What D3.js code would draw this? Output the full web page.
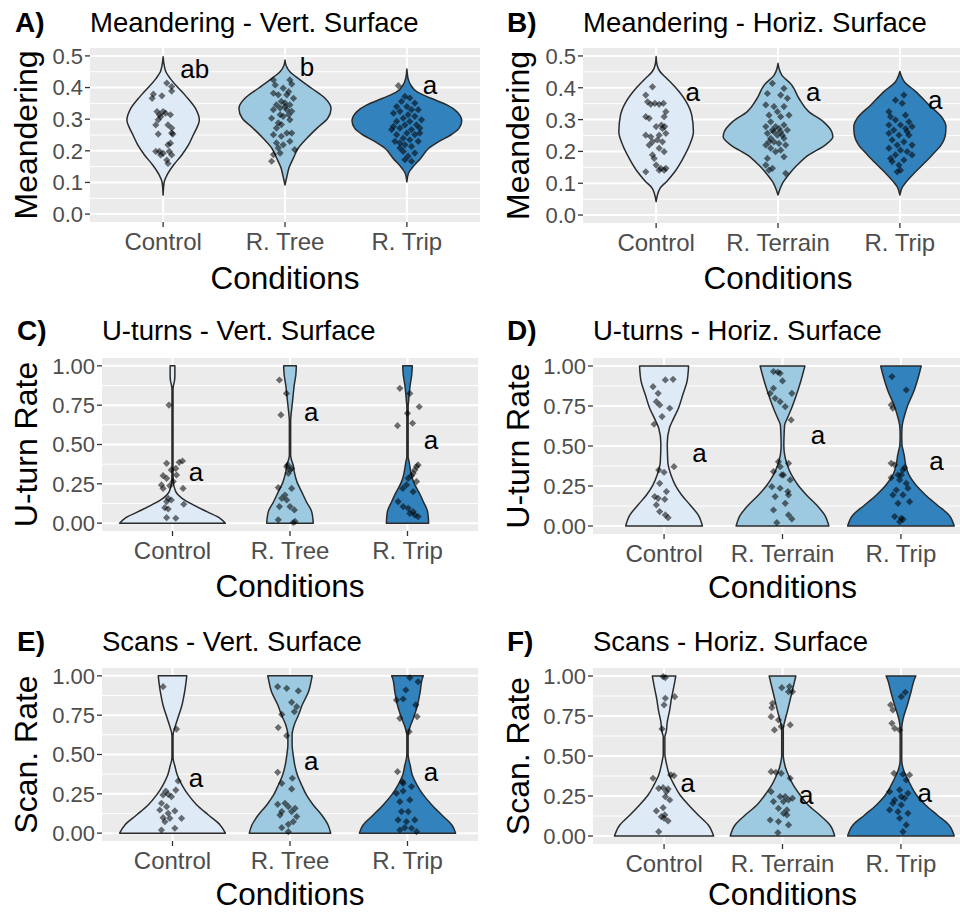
<!DOCTYPE html>
<html>
<head>
<meta charset="utf-8">
<script src="https://cdn.jsdelivr.net/npm/d3@7"></script>
<style>
  body { margin: 0; background: #fff; }
  text { font-family: "Liberation Sans", Arial, sans-serif; }
</style>
</head>
<body>
<svg id="chart" width="960" height="912"></svg>
<script>
// ---- data ----
const condVert = ["Control", "R. Tree", "R. Trip"];
const condHoriz = ["Control", "R. Terrain", "R. Trip"];
const tags = ["A)", "B)", "C)", "D)", "E)", "F)"];
const titles = ["Meandering - Vert. Surface", "Meandering - Horiz. Surface",
	"U-turns - Vert. Surface", "U-turns - Horiz. Surface",
	"Scans - Vert. Surface", "Scans - Horiz. Surface"];
const yTitles = ["Meandering", "Meandering", "U-turn Rate", "U-turn Rate", "Scan. Rate", "Scan. Rate"];
const meanderTicks = [0, 0.1, 0.2, 0.3, 0.4, 0.5];
const rateTicks = [0, 0.25, 0.5, 0.75, 1];
const fills = ["#deebf7", "#9ecae1", "#3182bd"];

// violin outlines: [value, relative density]
const violinA = [
	[[.06, 0], [.102, .02], [.123, .07], [.155, .19], [.187, .34], [.218, .46], [.25, .55], [.271, .61], [.297, .66], [.334, .59], [.376, .40], [.429, .127], [.45, .05], [.47, .02], [.497, 0]],
	[[.092, 0], [.123, .04], [.145, .07], [.176, .15], [.208, .24], [.24, .40], [.271, .58], [.303, .78], [.334, .84], [.366, .73], [.397, .49], [.429, .24], [.45, .09], [.47, .02], [.487, 0]],
	[[.102, 0], [.129, .03], [.145, .09], [.176, .25], [.208, .40], [.229, .58], [.25, .80], [.271, .95], [.294, 1.0], [.324, .91], [.345, .73], [.366, .44], [.387, .18], [.408, .07], [.43, .02], [.459, 0]]
];
const violinB = [
	[[.042, 0], [.084, .07], [.105, .19], [.136, .34], [.178, .49], [.22, .61], [.262, .68], [.314, .65], [.356, .55], [.398, .37], [.43, .19], [.451, .07], [.47, .02], [.498, 0]],
	[[.063, 0], [.105, .10], [.126, .19], [.157, .35], [.189, .56], [.22, .86], [.246, 1.0], [.262, .98], [.293, .83], [.325, .56], [.367, .38], [.409, .25], [.44, .07], [.46, .02], [.477, 0]],
	[[.063, 0], [.089, .05], [.105, .12], [.126, .23], [.157, .41], [.189, .59], [.22, .75], [.252, .83], [.278, .84], [.304, .78], [.346, .53], [.388, .29], [.419, .08], [.44, .02], [.451, 0]]
];
const violinC = [
	[[0, 1.0], [.031, .90], [.073, .65], [.115, .40], [.158, .18], [.19, .08], [.221, .04], [.264, .015], [.35, .01], [.85, .01], [.878, .02], [.91, .04], [.942, .045], [1, .045]],
	[[0, .44], [.073, .41], [.136, .31], [.2, .22], [.264, .13], [.327, .08], [.37, .06], [.401, .03], [.43, .012], [.65, .012], [.688, .02], [.751, .04], [.815, .06], [.878, .08], [.942, .11], [1, .12]],
	[[0, .40], [.073, .38], [.136, .30], [.2, .21], [.243, .14], [.285, .09], [.349, .05], [.391, .03], [.42, .012], [.74, .012], [.772, .02], [.815, .03], [.878, .05], [.942, .08], [1, .09]]
];
const violinD = [
	[[0, .72], [.069, .64], [.131, .49], [.194, .33], [.256, .21], [.319, .13], [.402, .07], [.517, .06], [.611, .10], [.673, .18], [.736, .27], [.819, .35], [.902, .43], [1, .46]],
	[[0, .87], [.069, .79], [.131, .64], [.194, .45], [.256, .29], [.319, .17], [.381, .09], [.444, .04], [.506, .025], [.569, .03], [.631, .04], [.673, .09], [.736, .17], [.819, .26], [.902, .34], [1, .42]],
	[[0, 1.0], [.069, .90], [.131, .68], [.194, .46], [.256, .28], [.319, .15], [.381, .09], [.444, .06], [.475, .04], [.506, .02], [.569, .015], [.631, .025], [.694, .07], [.756, .13], [.84, .24], [.923, .32], [1, .38]]
];
const violinE = [
	[[0, 1.0], [.052, .90], [.115, .68], [.179, .46], [.243, .30], [.306, .18], [.37, .09], [.433, .04], [.465, .015], [.49, .01], [.61, .01], [.635, .015], [.667, .04], [.73, .10], [.815, .18], [.899, .23], [1, .27]],
	[[0, .77], [.052, .72], [.115, .60], [.179, .44], [.243, .31], [.306, .22], [.37, .14], [.433, .09], [.497, .06], [.56, .04], [.624, .04], [.688, .08], [.751, .16], [.815, .23], [.899, .35], [.984, .41], [1, .42]],
	[[0, .91], [.052, .84], [.115, .65], [.179, .46], [.243, .30], [.306, .18], [.37, .09], [.433, .05], [.476, .02], [.5, .012], [.62, .012], [.667, .04], [.73, .11], [.815, .19], [.899, .24], [.984, .28], [1, .30]]
];
const violinF = [
	[[0, .93], [.069, .83], [.131, .64], [.194, .46], [.256, .30], [.319, .19], [.381, .10], [.444, .05], [.486, .025], [.51, .015], [.62, .015], [.652, .04], [.714, .06], [.777, .10], [.861, .14], [.944, .19], [1, .22]],
	[[0, .98], [.069, .89], [.131, .70], [.194, .48], [.256, .33], [.319, .20], [.381, .11], [.423, .06], [.465, .03], [.5, .015], [.67, .015], [.714, .04], [.777, .09], [.861, .15], [.944, .21], [1, .25]],
	[[0, 1.0], [.069, .90], [.131, .68], [.194, .46], [.256, .29], [.319, .18], [.381, .09], [.413, .05], [.444, .025], [.48, .015], [.67, .015], [.715, .03], [.756, .06], [.819, .12], [.902, .19], [.986, .26], [1, .28]]
];

// jittered observations: [jitter (category units), value]
const pointsA = [
	[[.03, .414], [.07, .403], [-.08, .379], [-.09, .366], [-.01, .374], [.07, .389], [-.05, .324], [-.03, .314], [-.02, .308], [-.04, .298], [.06, .314], [-.06, .282], [.04, .282], [.07, .272], [.08, .253], [-.04, .253], [.06, .224], [-.06, .198], [0, .192], [-.02, .187], [.05, .198], [.07, .187], [.03, .171], [.04, .160], [.04, .219], [0, .324], [.02, .319], [.07, .256], [-.03, .198]],
	[[-.095, .424], [.04, .424], [-.08, .408], [.055, .411], [-.015, .398], [.03, .387], [-.095, .382], [-.055, .377], [.015, .377], [.07, .366], [-.03, .356], [0, .351], [.04, .345], [-.07, .345], [-.095, .330], [.015, .330], [.055, .325], [-.04, .314], [-.015, .309], [-.11, .303], [.04, .298], [-.055, .288], [-.03, .283], [-.07, .272], [-.095, .251], [.015, .256], [.055, .256], [-.03, .246], [-.07, .225], [.04, .230], [-.015, .219], [-.055, .209], [-.04, .193], [-.095, .188], [.08, .204], [-.11, .167], [0, .340], [-.04, .335], [.03, .314]],
	[[-.07, .406], [-.016, .372], [.024, .367], [-.044, .356], [.065, .351], [-.084, .340], [0, .340], [.038, .330], [.093, .330], [-.057, .325], [-.11, .319], [.01, .314], [.065, .309], [-.03, .303], [.12, .298], [-.084, .293], [.024, .293], [-.016, .282], [.079, .282], [-.11, .277], [-.057, .272], [.038, .267], [.106, .272], [0, .256], [-.084, .251], [.065, .251], [-.03, .240], [.024, .235], [-.098, .230], [.093, .230], [-.016, .219], [-.057, .209], [.038, .214], [-.03, .198], [.065, .193], [.01, .183], [.038, .167], [-.016, .172], [-.057, .225], [.106, .256], [-.125, .267]]
];
const pointsB = [
	[[-.03, .403], [-.085, .377], [-.07, .356], [-.044, .348], [-.01, .351], [.025, .348], [.06, .351], [-.085, .309], [-.057, .304], [.08, .325], [.066, .309], [.044, .283], [0, .278], [.07, .278], [-.085, .251], [-.044, .246], [.025, .251], [.08, .257], [-.03, .230], [.052, .230], [-.057, .220], [.025, .210], [.066, .199], [-.03, .189], [-.085, .136], [0, .157], [.038, .147], [.08, .147], [.066, .141], [.025, .141], [-.016, .178], [.01, .236], [.052, .272]],
	[[-.046, .414], [.049, .398], [-.087, .382], [.022, .377], [.077, .367], [-.10, .346], [-.033, .341], [.049, .341], [-.005, .325], [-.074, .314], [.09, .314], [.022, .309], [-.06, .293], [.049, .283], [-.10, .278], [-.02, .278], [-.046, .267], [.022, .262], [.077, .267], [-.087, .257], [-.005, .251], [-.06, .241], [.049, .241], [-.033, .230], [.008, .225], [-.10, .220], [.063, .220], [-.06, .210], [.022, .204], [-.02, .199], [-.087, .178], [.049, .183], [-.10, .157], [-.046, .147], [.063, .131], [-.074, .141], [-.033, .262], [.008, .272], [-.074, .230], [.036, .251]],
	[[.033, .377], [-.036, .361], [.019, .351], [-.09, .325], [-.077, .309], [.046, .314], [-.036, .299], [.074, .293], [-.09, .283], [.005, .283], [-.05, .267], [.046, .272], [.10, .278], [-.09, .257], [-.008, .251], [.074, .251], [-.063, .236], [.033, .230], [-.022, .220], [.10, .220], [-.09, .210], [.005, .204], [.06, .199], [-.036, .189], [-.077, .178], [.033, .173], [-.008, .157], [.10, .189], [-.022, .136], [.005, .141], [-.063, .168], [.06, .262]]
];
const pointsC = [
	[[-.03, .751], [-.05, .380], [.057, .387], [.085, .395], [.028, .348], [-.01, .338], [-.08, .302], [-.05, .285], [.006, .264], [-.094, .243], [-.023, .238], [.034, .306], [.09, .221], [-.037, .158], [-.05, .137], [-.01, .147], [-.065, .098], [-.037, .090], [.096, .120], [-.05, .035], [.028, .031], [-.08, .221]],
	[[-.09, .910], [-.03, .825], [-.077, .688], [-.02, .370], [0, .338], [-.014, .317], [.014, .348], [-.028, .359], [-.10, .226], [.014, .221], [-.043, .179], [-.07, .158], [-.028, .147], [0, .105], [-.09, .105], [.037, .084], [-.10, .021], [.043, .011], [.028, .004]],
	[[-.065, .857], [.02, .825], [.10, .740], [0, .698], [-.085, .620], [.043, .635], [.077, .359], [.062, .338], [.048, .317], [.09, .370], [.034, .302], [.006, .285], [-.008, .243], [.077, .264], [-.04, .221], [.048, .200], [-.08, .137], [-.037, .105], [.006, .094], [.048, .073], [.062, .052], [.09, .041], [.02, .062]]
];
const pointsD = [
	[[.011, .913], [.076, .917], [-.093, .871], [-.05, .829], [-.065, .777], [-.037, .757], [.048, .736], [-.017, .684], [-.084, .636], [.084, .371], [-.045, .350], [0, .336], [-.037, .267], [.02, .215], [-.05, .173], [.006, .167], [-.079, .184], [-.065, .132], [-.037, .090], [.034, .052], [.011, .069]],
	[[-.076, .965], [-.039, .961], [-.02, .954], [0, .907], [-.104, .829], [-.062, .798], [-.02, .777], [.023, .746], [-.076, .861], [.079, .829], [.073, .663], [-.034, .402], [.051, .392], [-.02, .371], [-.076, .340], [.008, .319], [.065, .288], [-.09, .246], [-.02, .236], [.045, .215], [-.062, .184], [.051, .194], [.023, .142], [-.076, .100], [.051, .069], [.079, .044], [-.048, .021], [-.006, .319]],
	[[-.076, .934], [.045, .850], [-.082, .757], [-.068, .736], [-.082, .392], [-.053, .382], [.031, .365], [-.025, .319], [.017, .350], [-.082, .302], [-.011, .288], [.045, .267], [.059, .236], [-.039, .225], [.017, .194], [-.068, .194], [.073, .152], [-.025, .142], [-.053, .059], [.003, .048], [.017, .042], [-.011, .027], [.003, .319]]
];
const pointsE = [
	[[-.08, .931], [.034, .662], [.048, .332], [-.057, .268], [-.08, .243], [-.037, .247], [.028, .274], [-.009, .232], [-.094, .190], [-.05, .168], [.02, .141], [-.108, .147], [-.037, .126], [-.08, .098], [.077, .094], [-.023, .094], [-.065, .073], [.02, .031], [-.094, .020]],
	[[-.105, .931], [-.028, .921], [.071, .904], [.014, .832], [.057, .804], [.037, .772], [-.07, .755], [-.10, .671], [-.028, .620], [-.105, .387], [-.07, .317], [.02, .349], [.014, .281], [-.105, .183], [-.043, .190], [-.014, .168], [.043, .158], [-.07, .137], [-.085, .115], [.057, .105], [.028, .073], [-.014, .056], [-.07, .035], [-.014, .009], [.014, .137]],
	[[.02, .988], [.09, .963], [-.014, .910], [-.094, .846], [-.037, .853], [.071, .815], [-.065, .730], [.082, .741], [.014, .645], [-.085, .391], [-.043, .327], [.034, .296], [-.094, .253], [-.037, .268], [-.065, .200], [.02, .211], [-.051, .137], [.006, .137], [-.08, .084], [.062, .084], [-.009, .073], [-.065, .020], [.034, .031], [.077, .009], [-.023, .035], [-.037, .317]]
];
const pointsF = [
	[[-.008, .996], [.011, .990], [.011, .861], [.09, .871], [0, .819], [-.017, .669], [-.093, .361], [.056, .382], [.084, .377], [-.045, .298], [-.008, .302], [.034, .294], [.02, .277], [.011, .246], [.048, .225], [-.065, .157], [-.008, .177], [.006, .132], [.034, .094], [0, .111], [-.045, .027], [-.023, .121]],
	[[-.006, .927], [.059, .934], [.051, .902], [.084, .902], [-.084, .829], [-.09, .802], [-.096, .746], [-.034, .725], [-.011, .684], [-.068, .663], [.065, .694], [-.096, .402], [-.056, .398], [.065, .361], [-.011, .392], [-.096, .277], [-.02, .246], [.023, .246], [.051, .225], [.008, .215], [-.076, .215], [-.034, .173], [.037, .163], [-.104, .100], [.008, .142], [.037, .132], [-.034, .090], [.051, .069], [-.039, .021], [.084, .236]],
	[[.037, .898], [.003, .871], [-.087, .819], [-.068, .788], [-.076, .704], [-.053, .673], [-.011, .663], [-.059, .392], [.017, .386], [.073, .382], [.045, .350], [-.096, .277], [-.011, .288], [.059, .267], [-.053, .225], [.031, .236], [-.068, .204], [.003, .194], [-.096, .163], [-.025, .152], [.059, .142], [-.011, .111], [.045, .069], [.017, .027], [.003, .246]]
];

// significance letters: [label, offset (category units), value]
const lettersA = [["ab", .26, .459], ["b", .18, .466], ["a", .19, .408]];
const lettersB = [["a", .30, .387], ["a", .29, .387], ["a", .29, .361]];
const lettersC = [["a", .20, .327], ["a", .18, .709], ["a", .20, .529]];
const lettersD = [["a", .30, .454], ["a", .30, .569], ["a", .30, .406]];
const lettersE = [["a", .20, .352], ["a", .18, .461], ["a", .20, .387]];
const lettersF = [["a", .20, .329], ["a", .20, .256], ["a", .20, .267]];

// ---- layout ----
const layout = [
	{ L: 90, R: 480, T: 48, B: 222, tagX: 15, titleY: 32, yTitleX: 26, xTitleY: 289 },
	{ L: 583, R: 973, T: 48, B: 223, tagX: 507, titleY: 32, yTitleX: 518, xTitleY: 289 },
	{ L: 102, R: 478, T: 358, B: 531, tagX: 17, titleY: 340, yTitleX: 26, xTitleY: 597 },
	{ L: 593, R: 972, T: 358, B: 534, tagX: 507, titleY: 340, yTitleX: 518, xTitleY: 598 },
	{ L: 102, R: 478, T: 668, B: 841, tagX: 17, titleY: 651, yTitleX: 26, xTitleY: 905 },
	{ L: 593, R: 972, T: 668, B: 844, tagX: 507, titleY: 651, yTitleX: 518, xTitleY: 905 }
];

const panels = [
	{ cats: condVert, ticks: meanderTicks, fmt: ".1f", violins: violinA, points: pointsA, letters: lettersA },
	{ cats: condHoriz, ticks: meanderTicks, fmt: ".1f", violins: violinB, points: pointsB, letters: lettersB },
	{ cats: condVert, ticks: rateTicks, fmt: ".2f", violins: violinC, points: pointsC, letters: lettersC },
	{ cats: condHoriz, ticks: rateTicks, fmt: ".2f", violins: violinD, points: pointsD, letters: lettersD },
	{ cats: condVert, ticks: rateTicks, fmt: ".2f", violins: violinE, points: pointsE, letters: lettersE },
	{ cats: condHoriz, ticks: rateTicks, fmt: ".2f", violins: violinF, points: pointsF, letters: lettersF }
];

const svg = d3.select("#chart");
svg.append("rect").attr("width", 960).attr("height", 912).attr("fill", "#fff");

panels.forEach(function (p, i) {
	let lay = layout[i];
	let g = svg.append("g");

	let x = d3.scalePoint()
		.domain(p.cats)
		.range([lay.L, lay.R])
		.padding(0.6);
	let step = x.step();

	let lo = p.ticks[0], hi = p.ticks[p.ticks.length - 1];
	let pad = (hi - lo) * 0.05;
	let y = d3.scaleLinear()
		.domain([lo - pad, hi + pad])
		.range([lay.B, lay.T]);

	// panel background + grid
	g.append("rect")
		.attr("x", lay.L).attr("y", lay.T)
		.attr("width", lay.R - lay.L).attr("height", lay.B - lay.T)
		.attr("fill", "#ebebeb");

	let minor = [];
	for (let k = 0; k < p.ticks.length - 1; k++) minor.push((p.ticks[k] + p.ticks[k + 1]) / 2);

	g.selectAll(".minor")
		.data(minor)
		.enter()
		.append("line")
		.attr("x1", lay.L).attr("x2", lay.R)
		.attr("y1", d => y(d)).attr("y2", d => y(d))
		.attr("stroke", "#fff").attr("stroke-width", 1);

	g.selectAll(".major")
		.data(p.ticks)
		.enter()
		.append("line")
		.attr("x1", lay.L).attr("x2", lay.R)
		.attr("y1", d => y(d)).attr("y2", d => y(d))
		.attr("stroke", "#fff").attr("stroke-width", 2);

	g.selectAll(".vmajor")
		.data(p.cats)
		.enter()
		.append("line")
		.attr("x1", d => x(d)).attr("x2", d => x(d))
		.attr("y1", lay.T).attr("y2", lay.B)
		.attr("stroke", "#fff").attr("stroke-width", 2);

	// violins
	p.violins.forEach(function (prof, j) {
		let cx = x(p.cats[j]);
		let area = d3.area()
			.y(d => y(d[0]))
			.x0(d => cx - d[1] * 0.45 * step)
			.x1(d => cx + d[1] * 0.45 * step)
			.curve(d3.curveMonotoneY);
		g.append("path")
			.datum(prof)
			.attr("d", area)
			.attr("fill", fills[j])
			.attr("stroke", "#2b2b2b")
			.attr("stroke-width", 1.5)
			.attr("stroke-linejoin", "round");
	});

	// jittered points
	let diamond = d3.symbol().type(d3.symbolSquare).size(26);
	p.points.forEach(function (pts, j) {
		let cx = x(p.cats[j]);
		g.selectAll(null)
			.data(pts)
			.enter()
			.append("path")
			.attr("d", diamond)
			.attr("transform", d => `translate(${cx + d[0] * step},${y(d[1])}) rotate(45)`)
			.attr("fill", "#000")
			.attr("fill-opacity", 0.55);
	});

	// letters
	g.selectAll(".letter")
		.data(p.letters)
		.enter()
		.append("text")
		.attr("x", (d, j) => x(p.cats[j]) + d[1] * step)
		.attr("y", d => y(d[2]))
		.attr("dy", "0.35em")
		.attr("text-anchor", "middle")
		.style("font-size", "26px")
		.attr("fill", "#000")
		.text(d => d[0]);

	// axes ticks + labels
	g.selectAll(".ytick")
		.data(p.ticks)
		.enter()
		.append("line")
		.attr("x1", lay.L - 5).attr("x2", lay.L)
		.attr("y1", d => y(d)).attr("y2", d => y(d))
		.attr("stroke", "#333").attr("stroke-width", 1.3);

	g.selectAll(".ylab")
		.data(p.ticks)
		.enter()
		.append("text")
		.attr("x", lay.L - 7)
		.attr("y", d => y(d))
		.attr("dy", "0.36em")
		.attr("text-anchor", "end")
		.style("font-size", "22px")
		.attr("fill", "#4d4d4d")
		.text(d => d3.format(p.fmt)(d));

	g.selectAll(".xtick")
		.data(p.cats)
		.enter()
		.append("line")
		.attr("x1", d => x(d)).attr("x2", d => x(d))
		.attr("y1", lay.B).attr("y2", lay.B + 5)
		.attr("stroke", "#333").attr("stroke-width", 1.3);

	g.selectAll(".xlab")
		.data(p.cats)
		.enter()
		.append("text")
		.attr("x", d => x(d))
		.attr("y", lay.B + 28)
		.attr("text-anchor", "middle")
		.style("font-size", "24px")
		.attr("fill", "#4d4d4d")
		.text(d => d);

	// titles
	g.append("text")
		.attr("x", (lay.L + lay.R) / 2)
		.attr("y", lay.xTitleY)
		.attr("text-anchor", "middle")
		.style("font-size", "31.5px")
		.attr("fill", "#000")
		.text("Conditions");

	g.append("text")
		.attr("transform", `translate(${lay.yTitleX},${(lay.T + lay.B) / 2}) rotate(-90)`)
		.attr("dy", "0.35em")
		.attr("text-anchor", "middle")
		.style("font-size", "32px")
		.attr("fill", "#000")
		.text(yTitles[i]);

	g.append("text")
		.attr("x", lay.tagX)
		.attr("y", lay.titleY)
		.style("font-size", "28px")
		.style("font-weight", "bold")
		.attr("fill", "#000")
		.text(tags[i]);

	g.append("text")
		.attr("x", lay.L)
		.attr("y", lay.titleY)
		.style("font-size", "27.5px")
		.attr("fill", "#000")
		.text(titles[i]);
});
</script>
</body>
</html>
